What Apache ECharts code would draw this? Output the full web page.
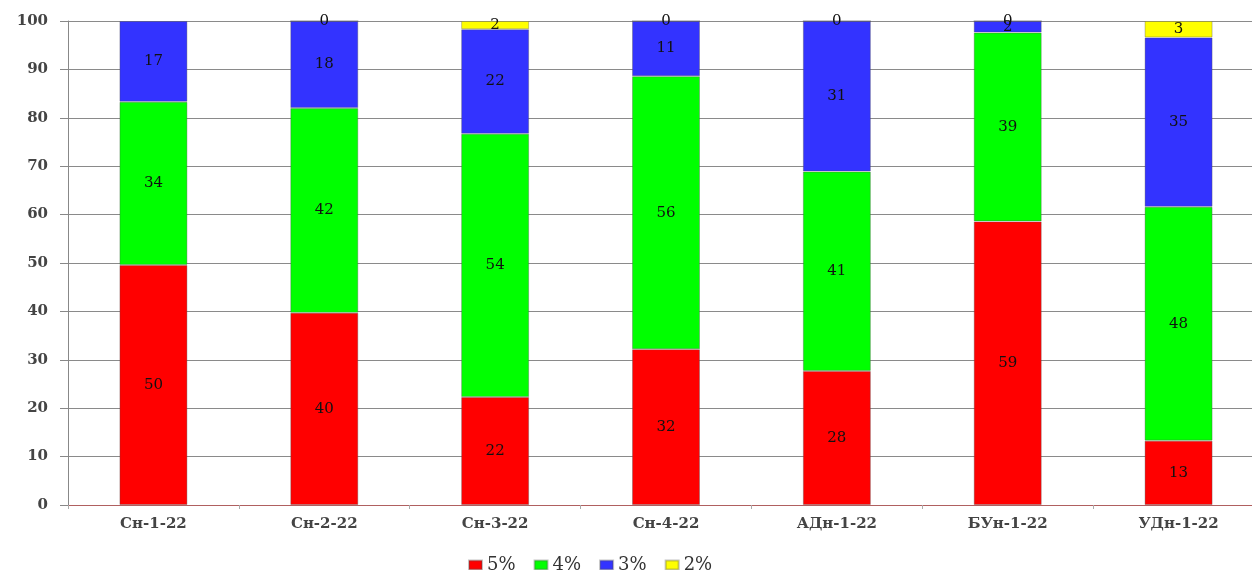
<!DOCTYPE html>
<html>
<head>
<meta charset="utf-8">
<script src="https://cdn.jsdelivr.net/npm/echarts@6/dist/echarts.min.js"></script>
<style>html,body{margin:0;padding:0;background:#fff;overflow:hidden;width:1252px;height:570px}#c{width:1264px;height:570px}</style>
</head>
<body>
<div id="c"></div>
<script>
const categories = ['Сн-1-22','Сн-2-22','Сн-3-22','Сн-4-22','АДн-1-22','БУн-1-22','УДн-1-22'];
const seriesNames = ['5%','4%','3%','2%'];
const s5 = [49.6, 39.7, 22.3, 32.2, 27.7, 58.6, 13.3];
const s4 = [33.7, 42.3, 54.4, 56.4, 41.2, 39.0, 48.3];
const s3 = [16.7, 18.0, 21.6, 11.4, 31.1, 2.4, 35.0];
const s2 = [null, 0, 1.7, 0, 0, 0, 3.4];
const yTicks = [0,10,20,30,40,50,60,70,80,90,100];
const colors = ['#ff0000','#00ff00','#3333ff','#ffff00'];

const chart = echarts.init(document.getElementById('c'));
const font = '"DejaVu Serif", "Liberation Serif", serif';
const mk = (name, data, color) => ({
  name, type: 'bar', stack: 'total', data, barWidth: 68,
  itemStyle: { color, borderColor: 'rgba(80,80,80,0.35)', borderWidth: 1 },
  label: {
    show: true, position: 'inside', color: '#111', fontFamily: font, fontSize: 15,
    formatter: p => p.value == null ? '' : String(Math.round(p.value))
  },
  emphasis: { disabled: true }
});
chart.setOption({
  animation: false,
  color: colors,
  grid: { left: 68, right: 0, top: 21, bottom: 65 },
  legend: {
    left: 463, top: 551, itemWidth: 13, itemHeight: 9, itemGap: 18,
    icon: 'rect',
    textStyle: { fontFamily: font, fontSize: 18, color: '#333' },
    data: seriesNames
  },
  xAxis: {
    type: 'category', data: categories,
    axisLine: { lineStyle: { color: '#b06060' } },
    axisTick: { show: true, length: 4, lineStyle: { color: '#aaa' } },
    axisLabel: { fontFamily: font, fontSize: 15, fontWeight: 'bold', color: '#444', margin: 12 }
  },
  yAxis: {
    type: 'value', min: 0, max: 100, interval: 10,
    axisLine: { show: true, lineStyle: { color: '#888' } },
    axisTick: { show: true, length: 8, lineStyle: { color: '#888' } },
    axisLabel: { fontFamily: font, fontSize: 15, fontWeight: 'bold', color: '#444', margin: 20,
      formatter: v => yTicks.includes(v) ? String(v) : '' },
    splitLine: { lineStyle: { color: '#8a8a8a' } }
  },
  series: [mk(seriesNames[0], s5, colors[0]), mk(seriesNames[1], s4, colors[1]),
           mk(seriesNames[2], s3, colors[2]), mk(seriesNames[3], s2, colors[3])]
});
</script>
</body>
</html>
